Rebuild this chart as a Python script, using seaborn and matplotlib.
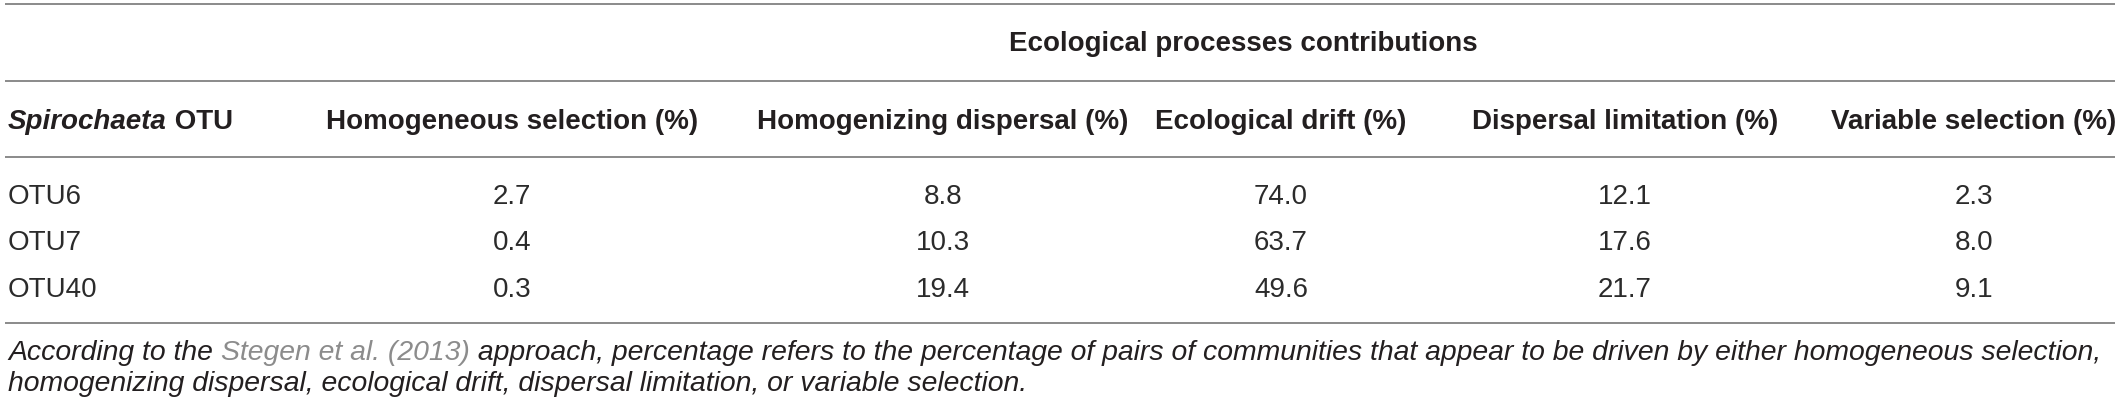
import matplotlib
matplotlib.use("Agg")
import matplotlib.pyplot as plt
import seaborn as sns

# table contents
otus = ["OTU6", "OTU7", "OTU40"]
processes = ["Homogeneous selection (%)", "Homogenizing dispersal (%)",
             "Ecological drift (%)", "Dispersal limitation (%)",
             "Variable selection (%)"]
homog_sel = [2.7, 0.4, 0.3]
homog_disp = [8.8, 10.3, 19.4]
eco_drift = [74.0, 63.7, 49.6]
disp_lim = [12.1, 17.6, 21.7]
var_sel = [2.3, 8.0, 9.1]
group_title = "Ecological processes contributions"
note_pre = "According to the "
note_ref = "Stegen et al. (2013)"
note_post = (" approach, percentage refers to the percentage of pairs of communities "
             "that appear to be driven by either homogeneous selection,")
note_line2 = ("homogenizing dispersal, ecological drift, dispersal limitation, "
              "or variable selection.")

sns.set_theme(style="white")
plt.rcParams["font.family"] = ["Liberation Sans", "DejaVu Sans"]

W, H = 2120, 410
fig = plt.figure(figsize=(W / 100, H / 100), dpi=100)
ax = fig.add_axes([0, 0, 1, 1])
ax.set_xlim(0, W)
ax.set_ylim(H, 0)
ax.axis("off")

dark = "#231f20"
body = "#2b2b2b"
rule = "#8a8a8a"
fs = 20

# column layout
x_first = 8
col_centers = [512, 943, 1281, 1625, 1974]
y_group, y_head = 44, 122
y_rows = [197, 243, 290]
rules_y = [5, 82, 158, 324]

for yy in rules_y:
    ax.plot([5, 2115], [yy, yy], color=rule, lw=1.4, solid_capstyle="butt")

fig.canvas.draw()
rend = fig.canvas.get_renderer()


def x_end_of(t):
    bb = t.get_window_extent(renderer=rend)
    return ax.transData.inverted().transform((bb.x1, bb.y0))[0]


def text_after(t, txt, **kw):
    # place a text right after another one on the same line
    return ax.text(x_end_of(t), t.get_position()[1], txt, **kw)


ax.text((col_centers[0] + col_centers[-1]) / 2, y_group, group_title,
        ha="center", va="center", fontsize=fs, fontweight="bold", color=dark)

t0 = ax.text(x_first, y_head, "Spirochaeta", ha="left", va="center", fontsize=fs,
             fontweight="bold", fontstyle="italic", color=dark)
text_after(t0, " OTU", ha="left", va="center", fontsize=fs, fontweight="bold",
           color=dark)
for xc, name in zip(col_centers, processes):
    ax.text(xc, y_head, name, ha="center", va="center", fontsize=fs,
            fontweight="bold", color=dark)

columns = [homog_sel, homog_disp, eco_drift, disp_lim, var_sel]
for i, otu in enumerate(otus):
    ax.text(x_first, y_rows[i], otu, ha="left", va="center", fontsize=fs,
            color=body)
    for xc, col in zip(col_centers, columns):
        ax.text(xc, y_rows[i], f"{col[i]:.1f}", ha="center", va="center",
                fontsize=fs, color=body)

# footnote: size chosen so the first line reaches the right edge like the original
probe = ax.text(x_first, 353, note_pre + note_ref + note_post, fontsize=18.5,
                fontstyle="italic")
nfs = 18.5 * (2108 - x_first) / (x_end_of(probe) - x_first)
probe.remove()

n1 = ax.text(x_first, 353, note_pre, ha="left", va="center", fontsize=nfs,
             fontstyle="italic", color=dark)
n2 = text_after(n1, note_ref, ha="left", va="center", fontsize=nfs,
                fontstyle="italic", color="#8c8c8c")
text_after(n2, note_post, ha="left", va="center", fontsize=nfs,
           fontstyle="italic", color=dark)
ax.text(x_first, 384, note_line2, ha="left", va="center", fontsize=nfs,
        fontstyle="italic", color=dark)

fig.savefig("out.png", dpi=100, facecolor="white")
